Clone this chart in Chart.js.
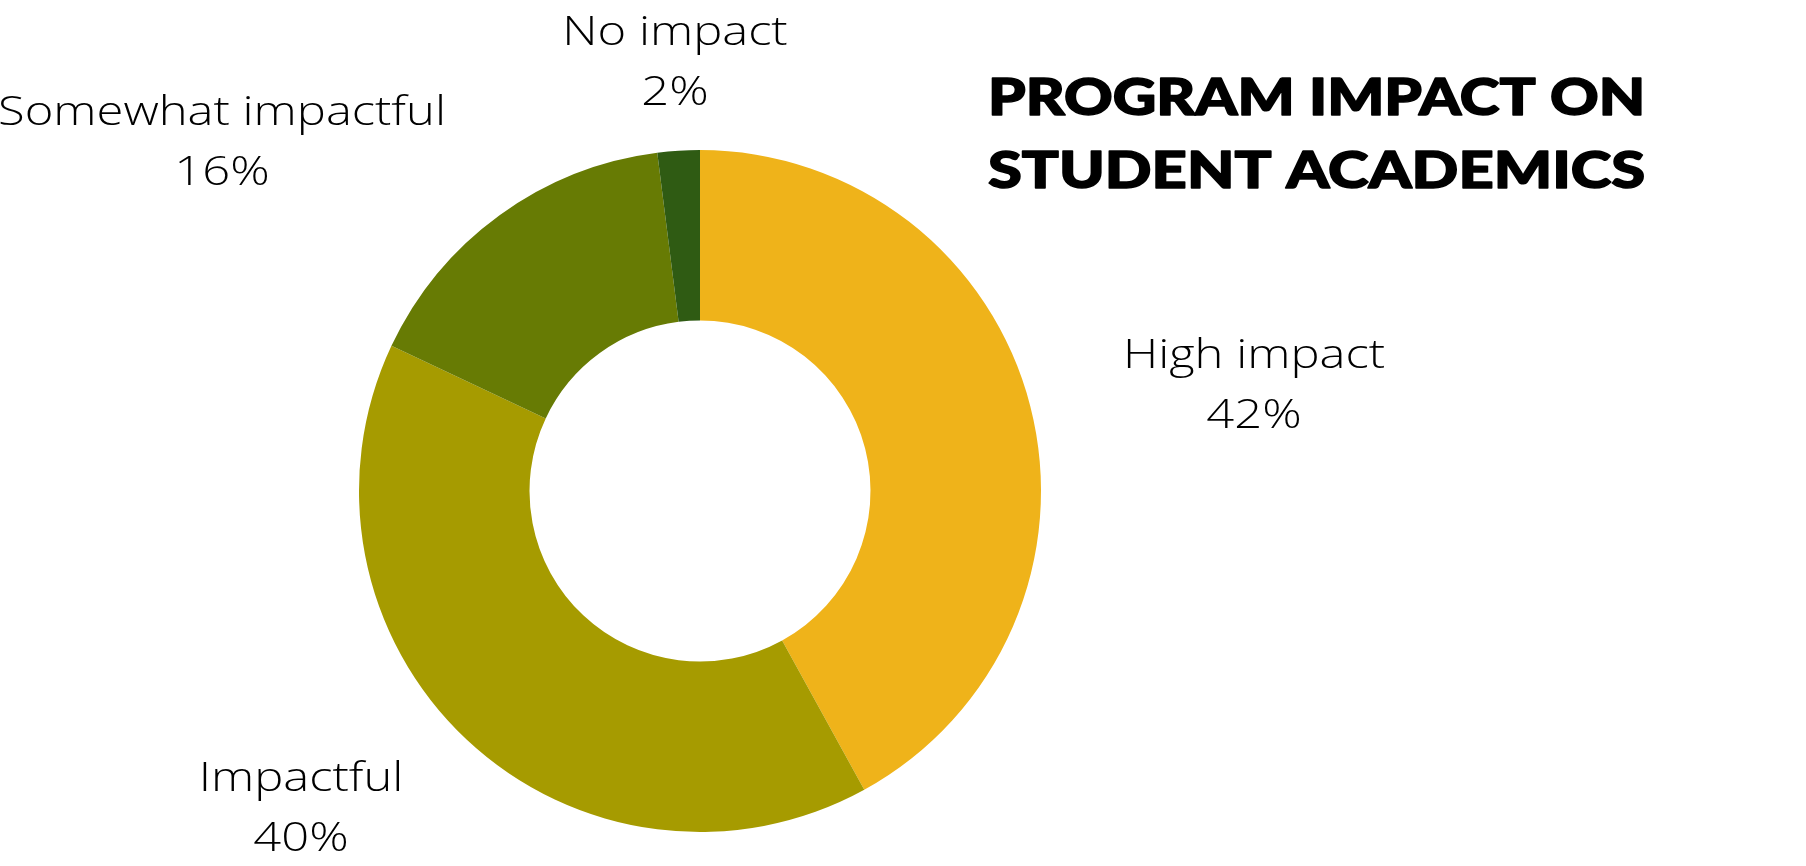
<!DOCTYPE html>
<html>
<head>
<meta charset="utf-8">
<script src="https://cdn.jsdelivr.net/npm/chart.js@4"></script>
<style>
html,body{margin:0;padding:0;background:#fff;}
#wrap{width:1806px;height:866px;position:relative;}
</style>
</head>
<body>
<div id="wrap"><canvas id="c" width="1806" height="866"></canvas></div>
<script>
const categories = ["High impact", "Impactful", "Somewhat impactful", "No impact"];
const values = [42, 40, 16, 2];
const colors = ["#EFB31A", "#A69B00", "#677B04", "#2F5B13"];
const titleLines = ["PROGRAM IMPACT ON", "STUDENT ACADEMICS"];
// label text-block centres, relative to the doughnut centre (px)
const labelOffsets = [[554, -108], [-399, 315], [-478, -351], [-25, -431]];

function drawStretched(ctx, text, x, y, sx, align, stroke) {
  const w = ctx.measureText(text).width * sx;
  let left = x;
  if (align === 'center') left = x - w / 2;
  ctx.save();
  ctx.translate(left, y);
  ctx.scale(sx, 1);
  ctx.textAlign = 'left';
  ctx.fillText(text, 0, 0);
  if (stroke) { ctx.lineWidth = stroke; ctx.strokeStyle = ctx.fillStyle; ctx.lineJoin = 'round'; ctx.strokeText(text, 0, 0); }
  ctx.restore();
}

const labelPlugin = {
  id: 'labels',
  afterDraw(chart) {
    const ctx = chart.ctx;
    const meta = chart.getDatasetMeta(0);
    const arc0 = meta.data[0];
    const cx = arc0.x, cy = arc0.y;
    ctx.save();
    ctx.fillStyle = '#000';
    ctx.textBaseline = 'alphabetic';
    ctx.font = '300 40px "Open Sans", sans-serif';
    // horizontal stretch so the light face matches the wide geometric original
    const sxL = 262 / ctx.measureText(categories[0]).width;
    const total = values.reduce((a, b) => a + b, 0);
    categories.forEach((c, i) => {
      const [dx, dy] = labelOffsets[i];
      const x = cx + dx, y = cy + dy;
      const pct = Math.round(values[i] / total * 100) + '%';
      drawStretched(ctx, c, x, y - 15, sxL, 'center');
      drawStretched(ctx, pct, x, y + 45, sxL, 'center');
    });
    // title
    ctx.font = '900 51px Lato, sans-serif';
    titleLines.forEach((t, i) => {
      const sxT = 659 / (ctx.measureText(t).width + 1.5);
      drawStretched(ctx, t, 988, 115 + i * 73, sxT, 'left', 1.5);
    });
    ctx.restore();
  }
};

new Chart(document.getElementById('c'), {
  type: 'doughnut',
  data: {
    labels: categories,
    datasets: [{
      data: values,
      backgroundColor: colors,
      borderWidth: 0,
      hoverOffset: 0
    }]
  },
  options: {
    responsive: false,
    animation: false,
    cutout: '50%',
    layout: { padding: { left: 359, right: 765, top: 150, bottom: 34 } },
    plugins: { legend: { display: false }, tooltip: { enabled: false } },
    events: []
  },
  plugins: [labelPlugin]
});
</script>
</body>
</html>
